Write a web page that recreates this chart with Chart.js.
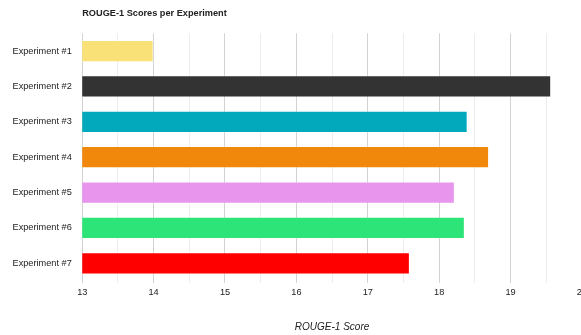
<!DOCTYPE html>
<html>
<head>
<meta charset="utf-8">
<script src="https://cdn.jsdelivr.net/npm/chart.js@4.4.1/dist/chart.umd.min.js"></script>
<style>
  html, body { margin: 0; padding: 0; background: #fff; overflow: hidden; }
  #wrap { width: 591px; height: 335px; position: relative; }
</style>
</head>
<body>
<div id="wrap"><canvas id="chartCanvas"></canvas></div>
<script>
// Data
const experiments = ['Experiment #1', 'Experiment #2', 'Experiment #3', 'Experiment #4',
                     'Experiment #5', 'Experiment #6', 'Experiment #7'];
const rougeScores = [14.0, 19.57, 18.40, 18.70, 18.22, 18.36, 17.59];
const barColors = ['#f9e177', '#333333', '#02a9bd', '#f2880b', '#e895ee', '#2ce477', '#ff0000'];
const axisMin = 13;
const axisMax = 20;

const fontFamily = 'Liberation Sans, Arial, sans-serif';
const ctx = document.getElementById('chartCanvas').getContext('2d');

const myChart = new Chart(ctx, {
  type: 'bar',
  data: {
    labels: experiments,
    datasets: [{
      label: 'ROUGE-1',
      data: rougeScores,
      backgroundColor: barColors,
      borderColor: 'rgba(255,255,255,0.35)',
      borderWidth: 1,
      borderSkipped: false,
      categoryPercentage: 1.0,
      barPercentage: 0.63
    }]
  },
  options: {
    indexAxis: 'y',
    responsive: true,
    maintainAspectRatio: false,
    animation: false,
    layout: {
      padding: { left: 2, right: 0, top: 0, bottom: 2 }
    },
    plugins: {
      legend: { display: false },
      tooltip: { enabled: false },
      title: {
        display: true,
        text: 'ROUGE-1 Scores per Experiment',
        align: 'start',
        fullSize: false,
        color: '#222',
        font: { family: fontFamily, size: 9.2, weight: 'bold' },
        padding: { top: 7.5, bottom: 14.8 }
      }
    },
    scales: {
      x: {
        min: axisMin,
        max: axisMax,
        ticks: {
          stepSize: 0.5,
          autoSkip: false,
          maxRotation: 0,
          padding: 4,
          color: '#222',
          font: { family: fontFamily, size: 9.2 },
          callback: v => Number.isInteger(v) ? v : ''
        },
        grid: {
          tickLength: 2,
          color: c => Number.isInteger(c.tick.value) ? '#d2d2d2' : '#ededed',
          lineWidth: 1
        },
        border: { display: false },
        title: {
          display: true,
          text: 'ROUGE-1 Score',
          color: '#222',
          font: { family: fontFamily, size: 10, style: 'italic' },
          padding: { top: 19, bottom: 0 }
        }
      },
      y: {
        ticks: {
          padding: 10.5,
          color: '#222',
          font: { family: fontFamily, size: 9.2 }
        },
        grid: { display: false, drawTicks: false },
        border: { display: false }
      }
    }
  }
});
</script>
</body>
</html>
